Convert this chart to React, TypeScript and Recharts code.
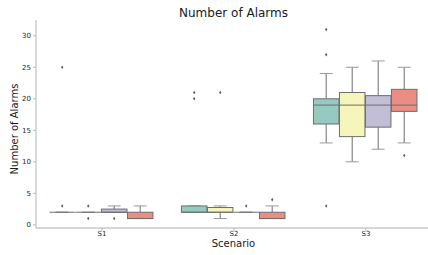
import React from 'react';
import { ComposedChart, Bar, XAxis, YAxis } from 'recharts';

const scenarios = ['S1', 'S2', 'S3'];
const groupNames = ['Group 1', 'Group 2', 'Group 3', 'Group 4'];
const groupColors = ['#96cac1', '#f6f6bc', '#c1bed6', '#ea8e83'];

// rows: scenario (S1, S2, S3); columns: group 1..4
const whiskerLow = [[2, 2, 2, 1], [2, 1, 2, 1], [13, 10, 12, 13]];
const quartile1 = [[2, 2, 2, 1], [2, 2, 2, 1], [16, 14, 15.5, 18]];
const medians = [[2, 2, 2, 1], [2, 2, 2, 1], [19, 19, 19, 19]];
const quartile3 = [[2, 2, 2.5, 2], [3, 2.75, 2, 2], [20, 21, 20.5, 21.5]];
const whiskerHigh = [[2, 2, 3, 3], [3, 3, 2, 3], [24, 25, 26, 25]];
const outliers = [
  [[3, 25], [1, 3], [1], []],
  [[20, 21], [21], [3], [4]],
  [[3, 27, 31], [], [], [11]],
];
const yTicks = [0, 5, 10, 15, 20, 25, 30];
const yDomain: [number, number] = [-0.5, 32.5];

type Stats = { lo: number; q1: number; med: number; q3: number; hi: number; out: number[] };

const data = scenarios.map((scenario, i) => {
  const row: any = { scenario };
  groupNames.forEach((_, g) => {
    const s: Stats = {
      lo: whiskerLow[i][g],
      q1: quartile1[i][g],
      med: medians[i][g],
      q3: quartile3[i][g],
      hi: whiskerHigh[i][g],
      out: outliers[i][g],
    };
    row['g' + g] = s;
  });
  return row;
});

const rangeOf = (s: Stats): [number, number] => {
  const all = [s.lo, s.q1, s.med, s.q3, s.hi, ...s.out];
  return [Math.min(...all), Math.max(...all)];
};

const EDGE = '#6e6e6e';

const BoxShape = (props: any) => {
  const { x, y, width, height, payload, g } = props;
  const s: Stats = payload['g' + g];
  const [v0, v1] = rangeOf(s);
  const p0 = y + height;
  const p1 = y;
  const pix = (v: number) => (v1 === v0 ? p0 : p0 + ((v - v0) / (v1 - v0)) * (p1 - p0));
  const cx = x + width / 2;
  const bw = width - 0.5;
  const bx = x + 0.25;
  const capW = width / 2;
  const top = pix(s.q3);
  const bot = pix(s.q1);
  return (
    <g>
      <line x1={cx} x2={cx} y1={pix(s.hi)} y2={top} stroke={EDGE} strokeWidth={1} />
      <line x1={cx} x2={cx} y1={pix(s.lo)} y2={bot} stroke={EDGE} strokeWidth={1} />
      <line x1={cx - capW / 2} x2={cx + capW / 2} y1={pix(s.hi)} y2={pix(s.hi)} stroke="#999" strokeWidth={1} />
      <line x1={cx - capW / 2} x2={cx + capW / 2} y1={pix(s.lo)} y2={pix(s.lo)} stroke="#999" strokeWidth={1} />
      <rect x={bx} y={top} width={bw} height={Math.max(bot - top, 0)} fill={groupColors[g]} stroke={EDGE} strokeWidth={1} />
      <line x1={bx} x2={bx + bw} y1={pix(s.med)} y2={pix(s.med)} stroke={EDGE} strokeWidth={1} />
      {s.out.map((v, k) => {
        const py = pix(v);
        return (
          <polygon
            key={k}
            points={`${cx},${py - 1.8} ${cx + 1.1},${py} ${cx},${py + 1.8} ${cx - 1.1},${py}`}
            fill="#555"
          />
        );
      })}
    </g>
  );
};

const font = 'DejaVu Sans';

export default function App() {
  return (
    <div
      style={{
        position: 'absolute',
        left: 0,
        top: 0,
        width: 428,
        height: 255,
        overflow: 'hidden',
        background: '#fff',
        fontFamily: font,
      }}
    >
      <ComposedChart
        width={432}
        height={255}
        data={data}
        margin={{ top: 20, right: 0, bottom: 0, left: 0 }}
        barCategoryGap="10%"
        barGap={0}
      >
        <XAxis
          dataKey="scenario"
          height={27}
          tickSize={3}
          tickMargin={0}
          axisLine={{ stroke: '#c8c8c8', strokeWidth: 1.3 }}
          tickLine={{ stroke: '#bbb' }}
          tick={{ fontSize: 7, fill: '#262626', fontFamily: font }}
        />
        <XAxis
          xAxisId="top"
          orientation="top"
          dataKey="scenario"
          height={0}
          tick={false}
          tickLine={false}
          axisLine={{ stroke: '#c8c8c8', strokeWidth: 1.3 }}
        />
        <YAxis
          type="number"
          width={36}
          domain={yDomain}
          ticks={yTicks}
          allowDataOverflow
          tickSize={3}
          tickMargin={2}
          axisLine={{ stroke: '#c8c8c8', strokeWidth: 1.3 }}
          tickLine={{ stroke: '#bbb' }}
          tick={{ fontSize: 7, fill: '#262626', fontFamily: font }}
        />
        {groupNames.map((name, g) => (
          <Bar
            key={name}
            name={name}
            dataKey={(row: any) => rangeOf(row['g' + g])}
            isAnimationActive={false}
            shape={(p: any) => <BoxShape {...p} g={g} />}
          />
        ))}
      </ComposedChart>
      <div
        style={{
          position: 'absolute',
          left: 233.5,
          top: 13,
          transform: 'translate(-50%, -50%)',
          fontSize: 12,
          lineHeight: 1,
          whiteSpace: 'nowrap',
          color: '#1a1a1a',
        }}
      >
        Number of Alarms
      </div>
      <div
        style={{
          position: 'absolute',
          left: 15,
          top: 129,
          transform: 'translate(-50%, -50%) rotate(-90deg)',
          fontSize: 10,
          lineHeight: 1,
          whiteSpace: 'nowrap',
          color: '#1a1a1a',
        }}
      >
        Number of Alarms
      </div>
      <div
        style={{
          position: 'absolute',
          left: 233.5,
          top: 243.5,
          transform: 'translate(-50%, -50%)',
          fontSize: 10,
          lineHeight: 1,
          whiteSpace: 'nowrap',
          color: '#1a1a1a',
        }}
      >
        Scenario
      </div>
    </div>
  );
}
